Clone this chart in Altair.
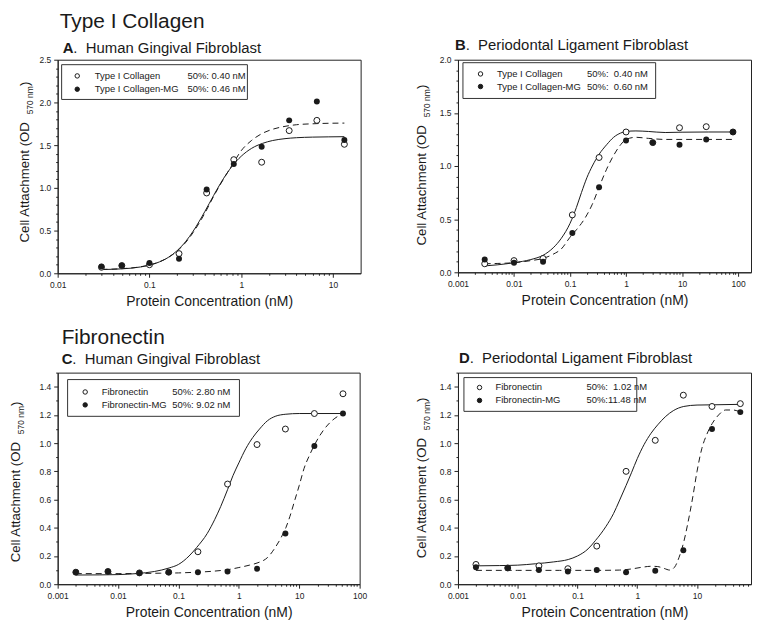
import altair as alt
import pandas as pd

FONT = "Liberation Sans"
INK = "#1a1a1a"

# ---------------- data ----------------
# Panel A: Type I Collagen, Human Gingival Fibroblast
A_conc = [0.03, 0.05, 0.1, 0.21, 0.42, 0.83, 1.67, 3.33, 6.67, 13.3]
A_open = [0.07, 0.09, 0.10, 0.23, 0.94, 1.33, 1.30, 1.67, 1.79, 1.51]
A_filled = [0.08, 0.09, 0.12, 0.17, 0.98, 1.28, 1.48, 1.79, 2.01, 1.56]
A_fit_x = [0.03, 0.05, 0.08, 0.12, 0.16, 0.2, 0.25, 0.3, 0.4, 0.5, 0.6, 0.8, 1.0,
           1.3, 1.7, 2.2, 3, 4, 6, 9, 13.3]
A_fit_open = [0.044, 0.052, 0.074, 0.121, 0.185, 0.264, 0.376, 0.494, 0.72, 0.91,
              1.059, 1.257, 1.37, 1.463, 1.52, 1.554, 1.576, 1.587, 1.594, 1.597, 1.599]
A_fit_filled = [0.045, 0.054, 0.076, 0.122, 0.184, 0.259, 0.365, 0.479, 0.70, 0.90,
                1.05, 1.27, 1.435, 1.556, 1.638, 1.686, 1.72, 1.739, 1.75, 1.756, 1.758]

# Panel B: Type I Collagen, Periodontal Ligament Fibroblast
B_conc = [0.003, 0.01, 0.033, 0.11, 0.33, 1.0, 3.0, 9.0, 27.0, 81.0]
B_open = [0.08, 0.11, 0.13, 0.54, 1.08, 1.32, 1.22, 1.36, 1.37, 1.32]
B_filled = [0.12, 0.09, 0.10, 0.37, 0.80, 1.24, 1.22, 1.20, 1.25, 1.32]
B_fit_x = [0.003, 0.005, 0.01, 0.02, 0.033, 0.05, 0.07, 0.1, 0.13, 0.16, 0.2, 0.25,
           0.33, 0.45, 0.6, 0.8, 1.0, 1.5, 2.5, 5, 10, 30, 81]
B_fit_open = [0.06, 0.07, 0.09, 0.12, 0.16, 0.23, 0.32, 0.46, 0.61, 0.75, 0.89, 1.0,
              1.11, 1.2, 1.27, 1.31, 1.325, 1.33, 1.325, 1.315, 1.318, 1.32, 1.32]
B_fit_filled = [0.08, 0.083, 0.09, 0.11, 0.13, 0.17, 0.22, 0.33, 0.40, 0.46, 0.54, 0.64,
                0.80, 0.97, 1.1, 1.2, 1.25, 1.27, 1.26, 1.25, 1.25, 1.25, 1.25]

# Panel C: Fibronectin, Human Gingival Fibroblast
C_conc = [0.002, 0.0068, 0.0226, 0.069, 0.21, 0.65, 2.0, 5.9, 17.8, 53.0]
C_open = [0.085, 0.09, 0.08, 0.085, 0.23, 0.71, 0.99, 1.10, 1.21, 1.35]
C_filled = [0.085, 0.09, 0.08, 0.085, 0.085, 0.09, 0.11, 0.36, 0.98, 1.21]
C_fit_open_x = [0.002, 0.005, 0.01, 0.02, 0.04, 0.07, 0.1, 0.15, 0.2, 0.3, 0.4, 0.5,
                0.65, 0.8, 1.0, 1.3, 1.7, 2.2, 3, 4, 6, 10, 20, 53]
C_fit_open = [0.065, 0.066, 0.068, 0.075, 0.09, 0.115, 0.14, 0.20, 0.26, 0.36,
              0.46, 0.55, 0.67, 0.77, 0.86, 0.96, 1.04, 1.10, 1.16, 1.19,
              1.205, 1.21, 1.21, 1.21]
C_fit_filled_x = [0.002, 0.01, 0.05, 0.1, 0.2, 0.4, 0.7, 1.0, 1.5, 2.0, 3.0, 4.0, 5.0,
                  6.0, 7.0, 8.5, 10, 12, 15, 18, 25, 35, 53]
C_fit_filled = [0.075, 0.075, 0.078, 0.08, 0.085, 0.093, 0.105, 0.118, 0.135, 0.15,
                0.19, 0.26, 0.33, 0.40, 0.48, 0.60, 0.70, 0.82, 0.92, 0.99, 1.09,
                1.16, 1.21]

# Panel D: Fibronectin, Periodontal Ligament Fibroblast
D_conc = [0.002, 0.0068, 0.0226, 0.069, 0.21, 0.65, 2.0, 5.9, 17.8, 53.0]
D_open = [0.14, 0.115, 0.13, 0.11, 0.27, 0.80, 1.02, 1.34, 1.26, 1.28]
D_filled = [0.12, 0.115, 0.10, 0.09, 0.10, 0.085, 0.095, 0.24, 1.10, 1.22]
D_fit_open_x = [0.002, 0.005, 0.01, 0.02, 0.04, 0.07, 0.1, 0.15, 0.2, 0.3, 0.4, 0.5,
                0.65, 0.8, 1.0, 1.3, 1.7, 2.2, 3, 4, 6, 10, 20, 53]
D_fit_open = [0.130, 0.132, 0.135, 0.145, 0.158, 0.175, 0.20, 0.25, 0.31, 0.41,
              0.50, 0.59, 0.70, 0.79, 0.89, 0.99, 1.07, 1.13, 1.19, 1.23,
              1.26, 1.27, 1.272, 1.275]
D_fit_filled_x = [0.002, 0.01, 0.05, 0.2, 0.5, 0.8, 1.2, 1.7, 2.2, 2.8, 3.5, 4.2, 5,
                  6, 7, 8.5, 10, 12, 14.5, 18, 23, 30, 40, 53]
D_fit_filled = [0.098, 0.098, 0.098, 0.098, 0.10, 0.108, 0.12, 0.127, 0.125, 0.112,
                0.10, 0.12, 0.19, 0.30, 0.43, 0.62, 0.80, 0.96, 1.06, 1.14, 1.2,
                1.235, 1.235, 1.22]

COLLAGEN_NAMES = ["Type I Collagen", "Type I Collagen-MG"]
FIBRO_NAMES = ["Fibronectin", "Fibronectin-MG"]
A_ec50 = ["50%: 0.40 nM", "50%: 0.46 nM"]
B_ec50 = ["50%:\u00a0 0.40 nM", "50%:\u00a0 0.60 nM"]
C_ec50 = ["50%: 2.80 nM", "50%: 9.02 nM"]
D_ec50 = ["50%:\u00a0 1.02 nM", "50%:11.48 nM"]

X_TITLE = "Protein Concentration (nM)"


def log_minor(lo_exp, hi_exp, maxval):
    return [k * 10.0 ** e for e in range(lo_exp, hi_exp + 1) for k in range(2, 10)
            if k * 10.0 ** e < maxval]


def lin_minor(top, step, major_step):
    n = int(round(top / step))
    vals = [round(i * step, 3) for i in range(n + 1)]
    return [v for v in vals if abs(v / major_step - round(v / major_step)) > 1e-6]


def one(text):
    return pd.DataFrame({"t": [text]})


def txt(text, x, y, size, weight="normal", angle=0, align="left", baseline="alphabetic"):
    return alt.Chart(one(text)).mark_text(
        fontSize=size, fontWeight=weight, angle=angle, align=align,
        baseline=baseline, font=FONT, color=INK
    ).encode(text="t:N", x=alt.value(x), y=alt.value(y))


def panel(conc, open_v, filled_v, fo_x, fo_y, ff_x, ff_y, xdom, xticks, xminor,
          ydom, yticks, yminor, names, ec50, letter, subtitle, w, h, lg, ytx, yt0,
          tx, ty, supertitle=None, stx=0, sty=0):
    xs = alt.Scale(type="log", domain=xdom, nice=False)
    ys = alt.Scale(domain=ydom, nice=False, zero=False)
    common = dict(grid=False, domainColor="#222", tickColor="#222", labelColor="#222",
                  labelFont=FONT, labelFontSize=8.5, labelPadding=3, labelFlush=False)
    x_major = alt.Axis(values=xticks, format="~g", title=X_TITLE, orient="bottom",
                       tickSize=4, titlePadding=6, titleFont=FONT, titleFontSize=14,
                       titleFontWeight="normal", titleColor=INK, labelOverlap=False,
                       **common)
    x_minor = alt.Axis(values=xminor, labels=False, domain=False, title=None,
                       orient="bottom", tickSize=2, **common)
    y_major = alt.Axis(values=yticks, format=".1f", title=None, orient="left",
                       tickSize=4, labelOverlap=False, **common)
    y_minor = alt.Axis(values=yminor, labels=False, domain=False, title=None,
                       orient="left", tickSize=2, **common)

    pts = pd.DataFrame({"conc": conc, "open": open_v, "filled": filled_v})
    fo = pd.DataFrame({"conc": fo_x, "od": fo_y})
    ff = pd.DataFrame({"conc": ff_x, "od": ff_y})

    solid = alt.Chart(fo).mark_line(color=INK, strokeWidth=1, interpolate="monotone").encode(
        x=alt.X("conc:Q", scale=xs, axis=x_major),
        y=alt.Y("od:Q", scale=ys, axis=y_major))
    dashed = alt.Chart(ff).mark_line(color=INK, strokeWidth=1, strokeDash=[6, 4],
                                     interpolate="monotone").encode(
        x=alt.X("conc:Q", scale=xs, axis=x_minor),
        y=alt.Y("od:Q", scale=ys, axis=y_minor))
    p_open = alt.Chart(pts).mark_point(shape="circle", size=36, filled=False, fill="white",
                                       fillOpacity=1, stroke=INK, strokeWidth=1, opacity=1).encode(
        x=alt.X("conc:Q", scale=xs, axis=None),
        y=alt.Y("open:Q", scale=ys, axis=None))
    p_fill = alt.Chart(pts).mark_point(shape="circle", size=36, filled=True, color=INK,
                                       opacity=1).encode(
        x=alt.X("conc:Q", scale=xs, axis=None),
        y=alt.Y("filled:Q", scale=ys, axis=None))

    layers = [solid, dashed, p_open, p_fill]

    # legend box
    bx0, by0, bx1, by1 = lg["box"]
    layers.append(alt.Chart(one("")).mark_rect(fill="white", stroke="#333", strokeWidth=1).encode(
        x=alt.value(bx0), x2=alt.value(bx1), y=alt.value(by0), y2=alt.value(by1)))
    for i, (nm, ec) in enumerate(zip(names, ec50)):
        ry = lg["rows"][i]
        layers.append(alt.Chart(one(nm)).mark_point(
            shape="circle", size=20, filled=(i == 1), fill=("white" if i == 0 else INK),
            stroke=INK, strokeWidth=1, opacity=1).encode(
            x=alt.value(lg["sym"]), y=alt.value(ry)))
        layers.append(txt(nm, lg["lab"], ry, 9.5, baseline="middle"))
        layers.append(txt(ec, lg["ec"], ry, 9.5, baseline="middle"))

    # y-axis title with subscript
    main_w = 128.5
    sub_w = 28.0
    layers.append(txt("Cell Attachment (OD", ytx, yt0, 13.3, angle=270))
    layers.append(txt("570 nm", ytx + 4, yt0 - main_w - 0.5, 8.5, angle=270))
    layers.append(txt(")", ytx, yt0 - main_w - sub_w - 1, 13.3, angle=270))

    # panel titles
    layers.append(txt(letter, tx, ty, 15, weight="bold"))
    layers.append(txt(".\u00a0 " + subtitle, tx + 10.8, ty, 15))
    if supertitle:
        layers.append(txt(supertitle, stx, sty, 21))

    return alt.layer(*layers).resolve_axis(x="independent", y="independent").properties(
        width=w, height=h)


pA = panel(A_conc, A_open, A_filled, A_fit_x, A_fit_open, A_fit_x, A_fit_filled,
           [0.01, 20], [0.01, 0.1, 1, 10], log_minor(-2, 1, 20),
           [0, 2.5], [0, 0.5, 1.0, 1.5, 2.0, 2.5], lin_minor(2.5, 0.1, 0.5),
           COLLAGEN_NAMES, A_ec50, "A", "Human Gingival Fibroblast", 305, 215,
           {"box": (4, 5, 191, 40), "rows": (16.3, 29.7), "sym": 19.7, "lab": 37.3, "ec": 130.7},
           -28.5, 184, 5, -7, "Type I Collagen", 2, -32)

pB = panel(B_conc, B_open, B_filled, B_fit_x, B_fit_open, B_fit_x, B_fit_filled,
           [0.001, 170], [0.001, 0.01, 0.1, 1, 10, 100], log_minor(-3, 2, 170),
           [0, 2.0], [0, 0.5, 1.0, 1.5, 2.0], lin_minor(2.0, 0.1, 0.5),
           COLLAGEN_NAMES, B_ec50, "B", "Periodontal Ligament Fibroblast", 295, 214,
           {"box": (5, 3, 199, 39), "rows": (14.3, 27), "sym": 22.7, "lab": 39.3, "ec": 130},
           -32.5, 187, -3, -10)

pC = panel(C_conc, C_open, C_filled, C_fit_open_x, C_fit_open, C_fit_filled_x, C_fit_filled,
           [0.001, 100], [0.001, 0.01, 0.1, 1, 10, 100], log_minor(-3, 1, 100),
           [0, 1.5], [0, 0.2, 0.4, 0.6, 0.8, 1.0, 1.2, 1.4], lin_minor(1.5, 0.1, 0.2),
           FIBRO_NAMES, C_ec50, "C", "Human Gingival Fibroblast", 304, 213,
           {"box": (10, 7, 183, 44), "rows": (19.5, 32.5), "sym": 27.7, "lab": 44.3, "ec": 115.3},
           -38, 191, 4, -9, "Fibronectin", 4, -29)

pD = panel(D_conc, D_open, D_filled, D_fit_open_x, D_fit_open, D_fit_filled_x, D_fit_filled,
           [0.001, 80], [0.001, 0.01, 0.1, 1, 10], log_minor(-3, 1, 80),
           [0, 1.5], [0, 0.2, 0.4, 0.6, 0.8, 1.0, 1.2, 1.4], lin_minor(1.5, 0.1, 0.2),
           FIBRO_NAMES, D_ec50, "D", "Periodontal Ligament Fibroblast", 295, 213,
           {"box": (6, 5, 180, 39), "rows": (15, 28), "sym": 21.7, "lab": 37.7, "ec": 129.3},
           -32, 187, 1, -10)

chart = alt.concat(pA, pB, pC, pD, columns=2, spacing={"row": 100, "column": 98},
                   bounds="flush").properties(
    padding={"left": 0, "top": 0, "right": 0, "bottom": 0}
).configure(font=FONT, background="white").configure_view(
    stroke="#222", strokeWidth=1
).configure_axis(
    grid=False, domainColor="#222", tickColor="#222", labelColor="#222",
    labelFont=FONT, labelFontSize=8.5, labelPadding=3, titleFont=FONT,
    titleFontSize=14, titleFontWeight="normal", titleColor=INK
)

chart.save("out.html", embed_options={"renderer": "svg", "actions": False})
